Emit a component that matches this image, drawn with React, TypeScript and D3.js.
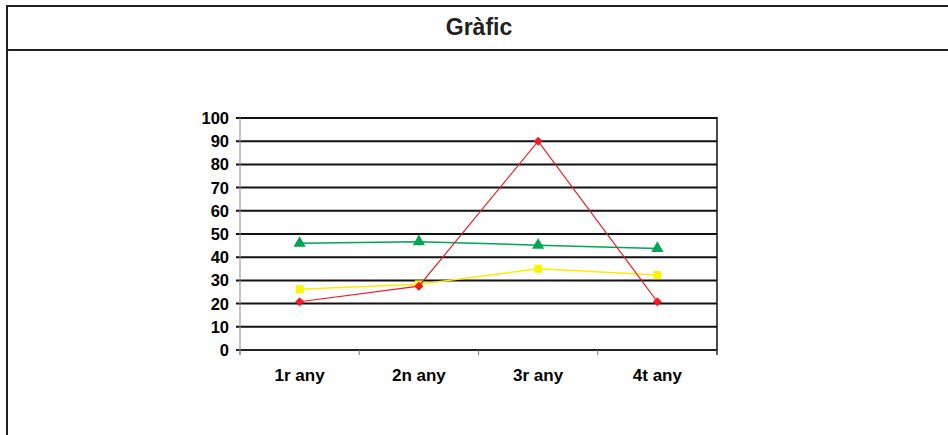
import React from "react";
import * as d3 from "d3";

const categories = ["1r any", "2n any", "3r any", "4t any"];
const greenSeries = [46, 46.7, 45.2, 43.8];
const yellowSeries = [26.2, 28.3, 35, 32.3];
const redSeries = [20.8, 27.5, 90, 20.8];
const yTicks = [0, 10, 20, 30, 40, 50, 60, 70, 80, 90, 100];

const W = 948;
const H = 435;
const plot = { left: 240, right: 717, top: 118, bottom: 350 };

export default function App() {
  const x = d3.scaleBand().domain(categories).range([plot.left, plot.right]);
  const y = d3.scaleLinear().domain([0, 100]).range([plot.bottom, plot.top]);
  const cx = (c: string) => (x(c) as number) + x.bandwidth() / 2;
  const line = d3
    .line<number>()
    .x((_, i) => cx(categories[i]))
    .y((v) => y(v));
  const font = "'Liberation Sans', Arial, sans-serif";
  const tri = d3.symbol().type(d3.symbolTriangle).size(65)();
  const sq = d3.symbol().type(d3.symbolSquare).size(64)();
  const dia = d3.symbol().type(d3.symbolSquare).size(40)();

  const boundaries = [...categories.map((c) => x(c) as number), plot.right];

  return (
    <svg
      width={W}
      height={H}
      style={{ position: "absolute", left: 0, top: 0, background: "#fff" }}
    >
      {/* frame */}
      <line x1={7} x2={W} y1={6} y2={6} stroke="#231f20" strokeWidth={2} />
      <line x1={7} x2={W} y1={50} y2={50} stroke="#231f20" strokeWidth={2} />
      <line x1={7} x2={7} y1={5} y2={H} stroke="#231f20" strokeWidth={2} />
      <text
        x={479}
        y={35}
        textAnchor="middle"
        fontFamily={font}
        fontWeight="bold"
        fontSize={23}
        fill="#231f20"
      >
        Gràfic
      </text>

      {/* gridlines */}
      {yTicks.map((t) => (
        <g key={t}>
          <line
            x1={plot.left - 4}
            x2={plot.right}
            y1={y(t)}
            y2={y(t)}
            stroke={t === 0 ? "#222" : "#111"}
            strokeWidth={2}
          />
          <text
            x={229}
            y={y(t) + 6}
            textAnchor="end"
            fontFamily={font}
            fontWeight="bold"
            fontSize={16.5}
            fill="#000"
          >
            {t}
          </text>
        </g>
      ))}
      {/* left axis */}
      <line
        x1={plot.left}
        x2={plot.left}
        y1={plot.top}
        y2={plot.bottom + 5}
        stroke="#888"
        strokeWidth={1}
      />
      {/* right border */}
      <line
        x1={plot.right}
        x2={plot.right}
        y1={plot.top - 1}
        y2={plot.bottom + 5}
        stroke="#111"
        strokeWidth={1.5}
      />
      {boundaries.map((b, i) => (
        <line
          key={i}
          x1={b}
          x2={b}
          y1={plot.bottom}
          y2={plot.bottom + 5}
          stroke="#777"
          strokeWidth={1}
        />
      ))}
      {categories.map((c) => (
        <text
          key={c}
          x={cx(c)}
          y={381}
          textAnchor="middle"
          fontFamily={font}
          fontWeight="bold"
          fontSize={17}
          fill="#000"
        >
          {c}
        </text>
      ))}

      {/* series */}
      <path d={line(greenSeries) as string} fill="none" stroke="#00a651" strokeWidth={1.5} />
      {greenSeries.map((v, i) => (
        <path key={i} d={tri as string} transform={`translate(${cx(categories[i])},${y(v)})`} fill="#00a651" />
      ))}
      <path d={line(yellowSeries) as string} fill="none" stroke="#ffea00" strokeWidth={1.5} />
      {yellowSeries.map((v, i) => (
        <path key={i} d={sq as string} transform={`translate(${cx(categories[i])},${y(v)})`} fill="#fff200" />
      ))}
      <path d={line(redSeries) as string} fill="none" stroke="#ed1c24" strokeWidth={1.2} />
      {redSeries.map((v, i) => (
        <path
          key={i}
          d={dia as string}
          transform={`translate(${cx(categories[i])},${y(v)}) rotate(45)`}
          fill="#ed1c24"
        />
      ))}
    </svg>
  );
}
